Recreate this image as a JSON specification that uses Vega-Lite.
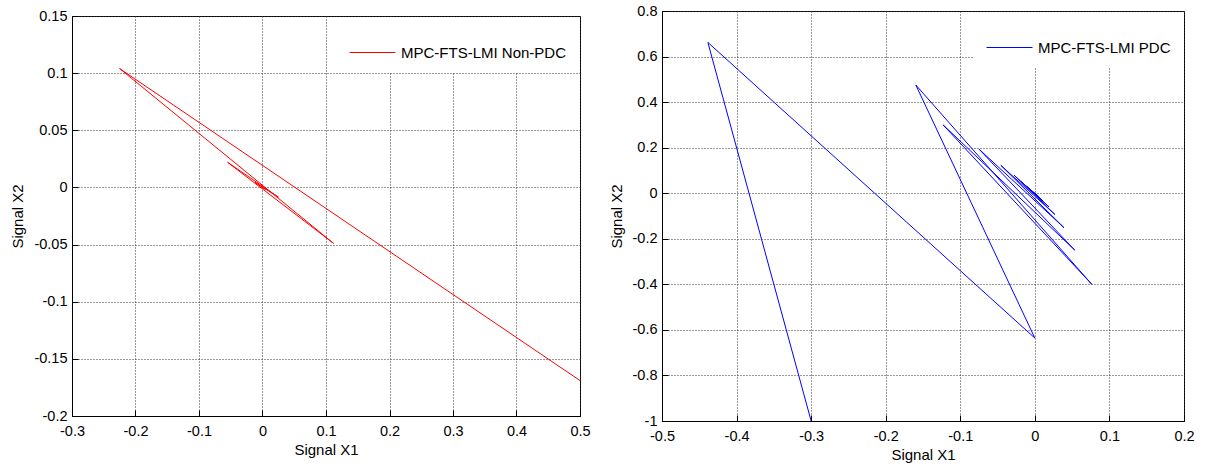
{
  "$schema": "https://vega.github.io/schema/vega-lite/v6.json",
  "background": "white",
  "padding": {"left": 10, "top": 2, "right": 5, "bottom": 5},
  "spacing": 17,
  "center": true,
  "resolve": {"scale": {"color": "independent"}, "legend": {"color": "independent"}},
  "config": {
    "font": "Liberation Sans",
    "view": {"stroke": "#000", "strokeWidth": 1},
    "axis": {
      "labelFont": "Liberation Sans",
      "labelFontSize": 14.5,
      "labelColor": "#000",
      "titleFont": "Liberation Sans",
      "titleFontSize": 15,
      "titleFontWeight": "normal",
      "titleColor": "#000",
      "domainColor": "#000",
      "domainWidth": 1,
      "tickColor": "#000",
      "tickSize": -6,
      "gridColor": "#333",
      "gridDash": [1, 2],
      "gridOpacity": 1,
      "gridWidth": 1,
      "labelFlush": false,
      "labelOverlap": false
    },
    "axisX": {"labelPadding": 14, "titlePadding": 5},
    "axisY": {"labelPadding": 11, "titlePadding": 8},
    "legend": {
      "orient": "top-right",
      "offset": 1,
      "fillColor": "white",
      "padding": 12,
      "labelFont": "Liberation Sans",
      "labelFontSize": 15,
      "labelColor": "#000",
      "labelLimit": 300,
      "symbolType": "stroke",
      "symbolSize": 2116,
      "symbolStrokeWidth": 1,
      "labelOffset": 5
    }
  },
  "hconcat": [
    {
      "width": 508,
      "height": 400,
      "data": {
        "values": [
          {"series": "MPC-FTS-LMI Non-PDC", "step": 0, "x": 0.5, "y": -0.169},
          {"series": "MPC-FTS-LMI Non-PDC", "step": 1, "x": -0.225, "y": 0.104},
          {"series": "MPC-FTS-LMI Non-PDC", "step": 2, "x": 0.112, "y": -0.049},
          {"series": "MPC-FTS-LMI Non-PDC", "step": 3, "x": -0.055, "y": 0.022},
          {"series": "MPC-FTS-LMI Non-PDC", "step": 4, "x": 0.025, "y": -0.0085},
          {"series": "MPC-FTS-LMI Non-PDC", "step": 5, "x": -0.012, "y": 0.0045},
          {"series": "MPC-FTS-LMI Non-PDC", "step": 6, "x": 0.0055, "y": -0.002},
          {"series": "MPC-FTS-LMI Non-PDC", "step": 7, "x": -0.0025, "y": 0.001},
          {"series": "MPC-FTS-LMI Non-PDC", "step": 8, "x": 0.001, "y": -0.0004},
          {"series": "MPC-FTS-LMI Non-PDC", "step": 9, "x": 0.0, "y": 0.0}
        ]
      },
      "mark": {"type": "line", "strokeWidth": 1, "clip": true},
      "encoding": {
        "x": {
          "field": "x", "type": "quantitative",
          "scale": {"domain": [-0.3, 0.5], "nice": false, "zero": false},
          "axis": {"title": "Signal X1", "values": [-0.3, -0.2, -0.1, 0, 0.1, 0.2, 0.3, 0.4, 0.5], "labelExpr": "toString(round(datum.value*100)/100)"}
        },
        "y": {
          "field": "y", "type": "quantitative",
          "scale": {"domain": [-0.2, 0.15], "nice": false, "zero": false},
          "axis": {"title": "Signal X2", "values": [-0.2, -0.15, -0.1, -0.05, 0, 0.05, 0.1, 0.15], "labelExpr": "toString(round(datum.value*100)/100)"}
        },
        "order": {"field": "step", "type": "quantitative"},
        "color": {"field": "series", "type": "nominal", "scale": {"range": ["#ff0000"]}, "legend": {"title": null, "orient": "top-right"}}
      }
    },
    {
      "width": 522,
      "height": 410,
      "data": {
        "values": [
          {"series": "MPC-FTS-LMI PDC", "step": 0, "x": -0.3, "y": -1.0},
          {"series": "MPC-FTS-LMI PDC", "step": 1, "x": -0.4385, "y": 0.662},
          {"series": "MPC-FTS-LMI PDC", "step": 2, "x": 0.0, "y": -0.636},
          {"series": "MPC-FTS-LMI PDC", "step": 3, "x": -0.1596, "y": 0.475},
          {"series": "MPC-FTS-LMI PDC", "step": 4, "x": 0.0764, "y": -0.4},
          {"series": "MPC-FTS-LMI PDC", "step": 5, "x": -0.123, "y": 0.3},
          {"series": "MPC-FTS-LMI PDC", "step": 6, "x": 0.0536, "y": -0.25},
          {"series": "MPC-FTS-LMI PDC", "step": 7, "x": -0.0747, "y": 0.193},
          {"series": "MPC-FTS-LMI PDC", "step": 8, "x": 0.039, "y": -0.151},
          {"series": "MPC-FTS-LMI PDC", "step": 9, "x": -0.0456, "y": 0.1225},
          {"series": "MPC-FTS-LMI PDC", "step": 10, "x": 0.0268, "y": -0.093},
          {"series": "MPC-FTS-LMI PDC", "step": 11, "x": -0.0278, "y": 0.079},
          {"series": "MPC-FTS-LMI PDC", "step": 12, "x": 0.019, "y": -0.06},
          {"series": "MPC-FTS-LMI PDC", "step": 13, "x": -0.018, "y": 0.05},
          {"series": "MPC-FTS-LMI PDC", "step": 14, "x": 0.011, "y": -0.035},
          {"series": "MPC-FTS-LMI PDC", "step": 15, "x": -0.011, "y": 0.03},
          {"series": "MPC-FTS-LMI PDC", "step": 16, "x": 0.006, "y": -0.018},
          {"series": "MPC-FTS-LMI PDC", "step": 17, "x": -0.006, "y": 0.015},
          {"series": "MPC-FTS-LMI PDC", "step": 18, "x": 0.003, "y": -0.008},
          {"series": "MPC-FTS-LMI PDC", "step": 19, "x": 0.0, "y": 0.0}
        ]
      },
      "mark": {"type": "line", "strokeWidth": 1, "clip": true},
      "encoding": {
        "x": {
          "field": "x", "type": "quantitative",
          "scale": {"domain": [-0.5, 0.2], "nice": false, "zero": false},
          "axis": {"title": "Signal X1", "values": [-0.5, -0.4, -0.3, -0.2, -0.1, 0, 0.1, 0.2], "labelExpr": "toString(round(datum.value*100)/100)"}
        },
        "y": {
          "field": "y", "type": "quantitative",
          "scale": {"domain": [-1, 0.8], "nice": false, "zero": false},
          "axis": {"title": "Signal X2", "values": [-1, -0.8, -0.6, -0.4, -0.2, 0, 0.2, 0.4, 0.6, 0.8], "labelExpr": "toString(round(datum.value*100)/100)"}
        },
        "order": {"field": "step", "type": "quantitative"},
        "color": {"field": "series", "type": "nominal", "scale": {"range": ["#0000ff"]}, "legend": {"title": null, "orient": "top-right"}}
      }
    }
  ]
}
